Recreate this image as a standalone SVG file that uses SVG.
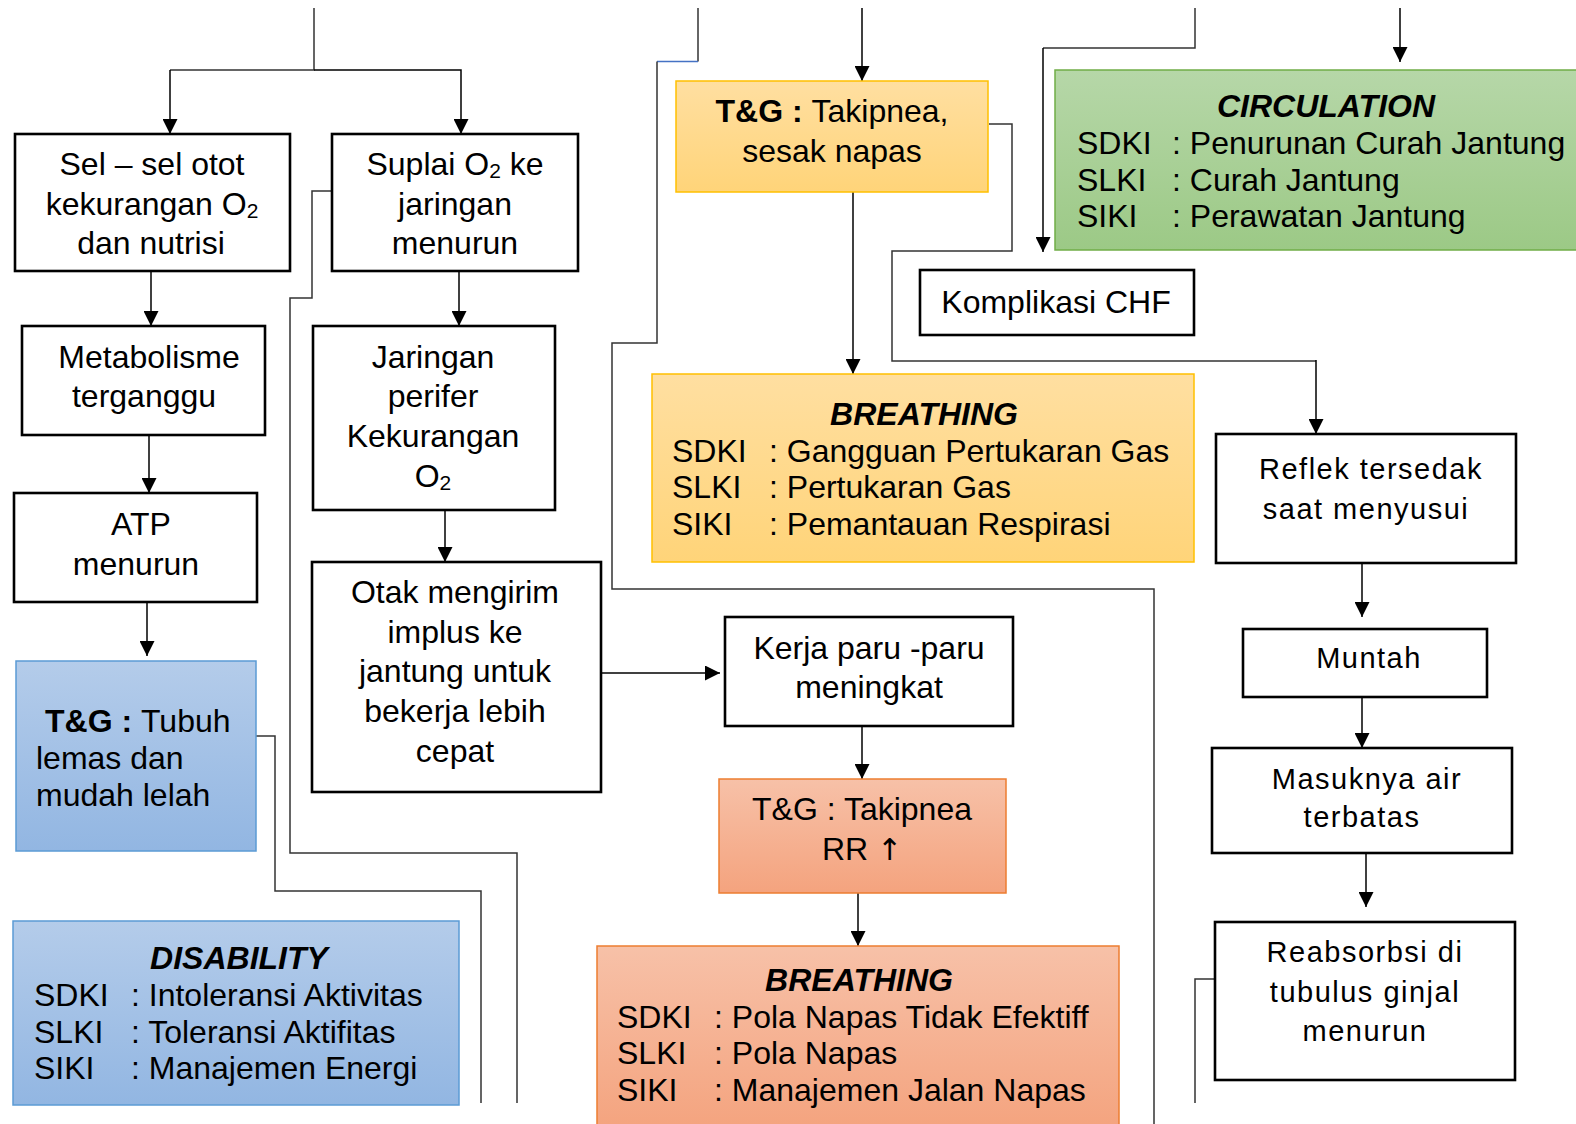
<svg xmlns="http://www.w3.org/2000/svg" width="1576" height="1124" viewBox="0 0 1576 1124">
<defs>
  <linearGradient id="gY" x1="0" y1="0" x2="0" y2="1"><stop offset="0" stop-color="#FFDFA1"/><stop offset="1" stop-color="#FFD479"/></linearGradient>
  <linearGradient id="gG" x1="0" y1="0" x2="0" y2="1"><stop offset="0" stop-color="#B6D7A8"/><stop offset="1" stop-color="#9CC986"/></linearGradient>
  <linearGradient id="gB" x1="0" y1="0" x2="0" y2="1"><stop offset="0" stop-color="#B4CCEA"/><stop offset="1" stop-color="#92B6E2"/></linearGradient>
  <linearGradient id="gO" x1="0" y1="0" x2="0" y2="1"><stop offset="0" stop-color="#F7C1A8"/><stop offset="1" stop-color="#F4A37E"/></linearGradient>
  <marker id="ah" markerUnits="userSpaceOnUse" markerWidth="15" markerHeight="15" refX="15" refY="7.5" orient="auto">
    <path d="M0,0 L15,7.5 L0,15 z" fill="#000"/>
  </marker>
</defs>
<style>
  text { font-family: "Liberation Sans", Arial, sans-serif; font-size: 32px; fill: #000; }
  .c { text-anchor: middle; }
  .t { font-weight: bold; font-style: italic; text-anchor: middle; }
  .b { font-weight: bold; }
  .r { font-size: 29px; letter-spacing: 1.5px; text-anchor: middle; }
  .box { fill: #fff; stroke: #000; stroke-width: 2.6; }
  .yel { fill: url(#gY); stroke: #FFC000; stroke-width: 1.5; }
  .grn { fill: url(#gG); stroke: #70AD47; stroke-width: 1.5; }
  .blu { fill: url(#gB); stroke: #5B9BD5; stroke-width: 1.5; }
  .org { fill: url(#gO); stroke: #ED7D31; stroke-width: 1.5; }
  .ln { fill: none; stroke: #333; stroke-width: 1.5; }
  .ar { fill: none; stroke: #000; stroke-width: 1.5; marker-end: url(#ah); }
  .sub { font-size: 21px; }
  .up { font-family: "DejaVu Sans", sans-serif; font-size: 30px; }
</style>

<g id="connectors">
  <path class="ln" d="M314,8 V70 H170"/>
  <path class="ar" d="M170,70 V134"/>
  <path class="ar" d="M314,70 H461 V134"/>
  <path class="ar" d="M151,271 V326"/>
  <path class="ar" d="M149,435 V493"/>
  <path class="ar" d="M147,602 V656"/>
  <path class="ar" d="M459,271 V326"/>
  <path class="ar" d="M445,510 V562"/>
  <path class="ar" d="M601,673 H720"/>
  <path class="ar" d="M862,726 V779"/>
  <path class="ar" d="M858,893 V946"/>
  <path class="ar" d="M862,8 V81"/>
  <path class="ar" d="M853,192 V374"/>
  <path class="ln" d="M698,8 V61.5"/>
  <path d="M698,61.5 H657" fill="none" stroke="#4472C4" stroke-width="1.5"/>
  <path class="ln" d="M657,61.5 V343 H612 V589 H1154 V1124"/>
  <path class="ln" d="M332,191 H312 V298 H290 V853 H517 V1103"/>
  <path class="ln" d="M256,736 H275 V891 H481 V1103"/>
  <path class="ln" d="M989,124 H1012 V251 H892 V361 H1316"/>
  <path class="ar" d="M1316,360 V434"/>
  <path class="ln" d="M1195,8 V48 H1043"/>
  <path class="ar" d="M1043,48 V252"/>
  <path class="ar" d="M1400,8 V62"/>
  <path class="ar" d="M1362,563 V617"/>
  <path class="ar" d="M1362,693 V748"/>
  <path class="ar" d="M1366,853 V907"/>
  <path class="ln" d="M1215,979 H1195 V1103"/>
</g>

<g id="n-sel">
  <rect class="box" x="15" y="134" width="275" height="137"/>
  <text class="c" x="152" y="175">Sel – sel otot</text>
  <text class="c" x="152" y="215">kekurangan O<tspan class="sub" dy="3">2</tspan></text>
  <text class="c" x="151" y="254">dan nutrisi</text>
</g>
<g id="n-suplai">
  <rect class="box" x="332" y="134" width="246" height="137"/>
  <text class="c" x="455" y="175">Suplai O<tspan class="sub" dy="3">2</tspan><tspan dy="-3"> ke</tspan></text>
  <text class="c" x="455" y="215">jaringan</text>
  <text class="c" x="455" y="254">menurun</text>
</g>
<g id="n-metabolisme">
  <rect class="box" x="22" y="326" width="243" height="109"/>
  <text class="c" x="149" y="368">Metabolisme</text>
  <text class="c" x="144" y="407">terganggu</text>
</g>
<g id="n-atp">
  <rect class="box" x="14" y="493" width="243" height="109"/>
  <text class="c" x="141" y="535">ATP</text>
  <text class="c" x="136" y="575">menurun</text>
</g>
<g id="n-tg-tubuh">
  <rect class="blu" x="16" y="661" width="240" height="190"/>
  <text x="45" y="732"><tspan class="b">T&amp;G : </tspan>Tubuh</text>
  <text x="36" y="769">lemas dan</text>
  <text x="36" y="806">mudah lelah</text>
</g>
<g id="n-disability">
  <rect class="blu" x="13" y="921" width="446" height="184"/>
  <text class="t" x="239" y="969">DISABILITY</text>
  <text x="34" y="1006">SDKI</text><text x="131" y="1006">: Intoleransi Aktivitas</text>
  <text x="34" y="1043">SLKI</text><text x="131" y="1043">: Toleransi Aktifitas</text>
  <text x="34" y="1079">SIKI</text><text x="131" y="1079">: Manajemen Energi</text>
</g>
<g id="n-jaringan">
  <rect class="box" x="313" y="326" width="242" height="184"/>
  <text class="c" x="433" y="368">Jaringan</text>
  <text class="c" x="433" y="407">perifer</text>
  <text class="c" x="433" y="447">Kekurangan</text>
  <text class="c" x="433" y="487">O<tspan class="sub" dy="3">2</tspan></text>
</g>
<g id="n-otak">
  <rect class="box" x="312" y="562" width="289" height="230"/>
  <text class="c" x="455" y="603">Otak mengirim</text>
  <text class="c" x="455" y="643">implus ke</text>
  <text class="c" x="455" y="682">jantung untuk</text>
  <text class="c" x="455" y="722">bekerja lebih</text>
  <text class="c" x="455" y="762">cepat</text>
</g>
<g id="n-tg-sesak">
  <rect class="yel" x="676" y="81" width="312" height="111"/>
  <text class="c" x="832" y="122"><tspan class="b">T&amp;G : </tspan>Takipnea,</text>
  <text class="c" x="832" y="162">sesak napas</text>
</g>
<g id="n-breathing1">
  <rect class="yel" x="652" y="374" width="542" height="188"/>
  <text class="t" x="924" y="425">BREATHING</text>
  <text x="672" y="462">SDKI</text><text x="769" y="462">: Gangguan Pertukaran Gas</text>
  <text x="672" y="498">SLKI</text><text x="769" y="498">: Pertukaran Gas</text>
  <text x="672" y="535">SIKI</text><text x="769" y="535">: Pemantauan Respirasi</text>
</g>
<g id="n-komplikasi">
  <rect class="box" x="920" y="270" width="274" height="65"/>
  <text class="c" x="1056" y="313">Komplikasi CHF</text>
</g>
<g id="n-circulation">
  <rect class="grn" x="1055" y="70" width="530" height="180"/>
  <text class="t" x="1326" y="117">CIRCULATION</text>
  <text x="1077" y="154">SDKI</text><text x="1172" y="154">: Penurunan Curah Jantung</text>
  <text x="1077" y="191">SLKI</text><text x="1172" y="191">: Curah Jantung</text>
  <text x="1077" y="227">SIKI</text><text x="1172" y="227">: Perawatan Jantung</text>
</g>
<g id="n-reflek">
  <rect class="box" x="1216" y="434" width="300" height="129"/>
  <text class="r" x="1371" y="479">Reflek tersedak</text>
  <text class="r" x="1366" y="519">saat menyusui</text>
</g>
<g id="n-muntah">
  <rect class="box" x="1243" y="629" width="244" height="68"/>
  <text class="r" x="1369" y="668">Muntah</text>
</g>
<g id="n-masuknya">
  <rect class="box" x="1212" y="748" width="300" height="105"/>
  <text class="r" x="1367" y="789">Masuknya air</text>
  <text class="r" x="1362" y="827">terbatas</text>
</g>
<g id="n-reabsorbsi">
  <rect class="box" x="1215" y="922" width="300" height="158"/>
  <text class="r" x="1365" y="962">Reabsorbsi di</text>
  <text class="r" x="1365" y="1002">tubulus ginjal</text>
  <text class="r" x="1365" y="1041">menurun</text>
</g>
<g id="n-kerja">
  <rect class="box" x="725" y="617" width="288" height="109"/>
  <text class="c" x="869" y="659">Kerja paru -paru</text>
  <text class="c" x="869" y="698">meningkat</text>
</g>
<g id="n-tg-rr">
  <rect class="org" x="719" y="779" width="287" height="114"/>
  <text class="c" x="862" y="820">T&amp;G : Takipnea</text>
  <text class="c" x="862" y="860">RR <tspan class="up">↑</tspan></text>
</g>
<g id="n-breathing2">
  <rect class="org" x="597" y="946" width="522" height="185"/>
  <text class="t" x="859" y="991">BREATHING</text>
  <text x="617" y="1028">SDKI</text><text x="714" y="1028">: Pola Napas Tidak Efektiff</text>
  <text x="617" y="1064">SLKI</text><text x="714" y="1064">: Pola Napas</text>
  <text x="617" y="1101">SIKI</text><text x="714" y="1101">: Manajemen Jalan Napas</text>
</g>
</svg>
